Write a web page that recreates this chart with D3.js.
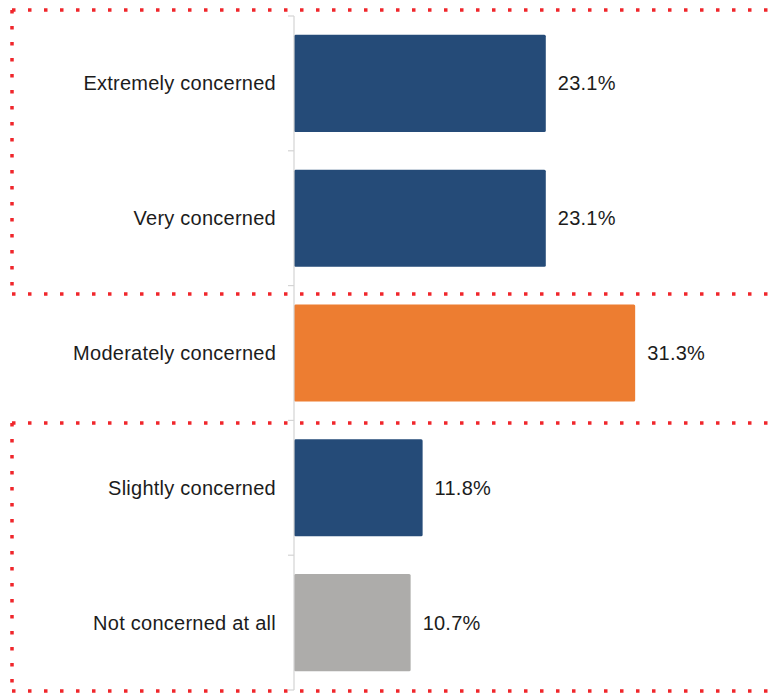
<!DOCTYPE html>
<html>
<head>
<meta charset="utf-8">
<script src="https://cdn.jsdelivr.net/npm/d3@7/dist/d3.min.js"></script>
<style>
  html, body { margin: 0; padding: 0; background: #fff; }
  svg { display: block; }
  text { font-family: "Liberation Sans", Arial, sans-serif; fill: #1c1c1c; letter-spacing: 0.25px; }
</style>
</head>
<body>
<div id="chart"></div>
<script>
// Level of concern among respondents (share of total, %)
const categories = ["Extremely concerned", "Very concerned", "Moderately concerned", "Slightly concerned", "Not concerned at all"];
const values = [23.1, 23.1, 31.3, 11.8, 10.7];
const barColors = ["#254b78", "#254b78", "#ed7d31", "#254b78", "#adacaa"];

const W = 768, H = 693;
const svg = d3.select("#chart").append("svg").attr("width", W).attr("height", H);

const axisX = 294;
const y = d3.scaleBand().domain(categories).range([16, 690]).paddingInner(0.28).paddingOuter(0.14);
const x = d3.scaleLinear().domain([0, 40]).range([axisX, axisX + 436]);

// Red dotted frames grouping the top two and bottom two answers
const dotted = svg.append("g")
  .attr("fill", "none")
  .attr("stroke", "#f0262b")
  .attr("stroke-width", 3.5)
  .attr("stroke-dasharray", "3.5 12.5");
const frames = [
  { top: 10, bottom: 294 },
  { top: 423, bottom: 691 }
];
frames.forEach(f => {
  dotted.append("path").attr("d", `M12,${f.top}H${W + 20}`);
  dotted.append("path").attr("d", `M12,${f.top}V${f.bottom}`);
  dotted.append("path").attr("d", `M12,${f.bottom}H${W + 20}`);
});

// Bars
svg.append("g").selectAll("rect")
  .data(values)
  .join("rect")
  .attr("x", x(0))
  .attr("y", (d, i) => y(categories[i]))
  .attr("width", d => x(d) - x(0))
  .attr("height", y.bandwidth())
  .attr("rx", 1.5)
  .attr("fill", (d, i) => barColors[i]);

// Category axis with ticks at band boundaries
const step = y.step();
const bounds = categories.map(c => y(c) - step * y.paddingInner() / 2);
bounds.push(y.range()[1]);
const ax = svg.append("g").attr("stroke", "#d4d4d4").attr("stroke-width", 1.2);
ax.append("line").attr("x1", axisX).attr("x2", axisX).attr("y1", y.range()[0]).attr("y2", y.range()[1]);
ax.selectAll("line.tick").data(bounds).join("line").attr("class", "tick")
  .attr("x1", axisX - 6).attr("x2", axisX).attr("y1", d => d).attr("y2", d => d);

// Category labels
svg.append("g").selectAll("text")
  .data(categories)
  .join("text")
  .attr("x", 276)
  .attr("y", d => y(d) + y.bandwidth() / 2)
  .attr("dy", "0.35em")
  .attr("text-anchor", "end")
  .attr("font-size", 20)
  .text(d => d);

// Value labels
svg.append("g").selectAll("text")
  .data(values)
  .join("text")
  .attr("x", d => x(d) + 12)
  .attr("y", (d, i) => y(categories[i]) + y.bandwidth() / 2)
  .attr("dy", "0.35em")
  .attr("font-size", 20)
  .text(d => d.toFixed(1) + "%");
</script>
</body>
</html>
